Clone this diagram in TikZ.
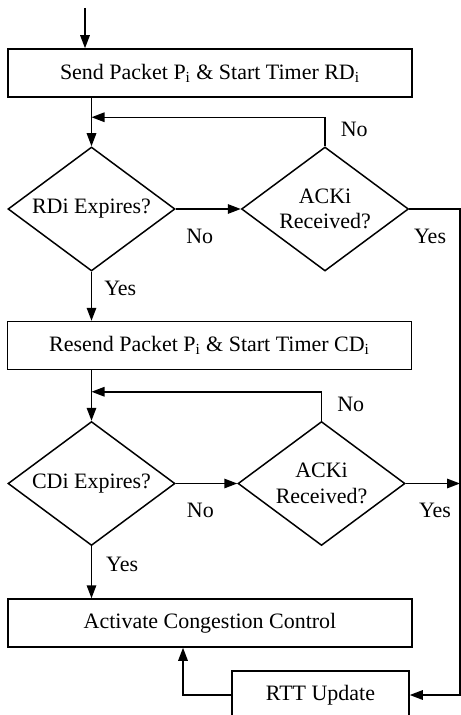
\documentclass[tikz,border=0pt]{standalone}
\usepackage{fontspec}
\setmainfont{Liberation Serif}
\usetikzlibrary{arrows.meta,positioning,shapes.geometric,calc}

\begin{document}
\begin{tikzpicture}[font=\fontsize{12.5}{14.4}\selectfont, >={Triangle[length=2.6mm,width=1.9mm]}, line width=0.85pt,
  procbox/.style={draw, rectangle, minimum width=8.08cm, minimum height=0.96cm, inner sep=0pt},
  decide/.style={draw, diamond, aspect=1.34, minimum width=3.34cm, minimum height=2.48cm, inner sep=0pt, align=center},
  lbl/.style={inner sep=0pt}]
  \useasboundingbox (0,0) rectangle (9.22,-14.3);

  % boxes and decisions
  \node[procbox] (send) at (4.2,-1.46) {Send Packet P\textsubscript{i} \& Start Timer RD\textsubscript{i}};
  \node[decide] (expire1) at (1.83,-4.18) {RDi Expires?};
  \node[decide] (ack1) at (6.5,-4.18) {ACKi\\ Received?};
  \node[procbox] (resend) at (4.19,-6.91) {Resend Packet P\textsubscript{i} \& Start Timer CD\textsubscript{i}};
  \node[decide] (expire2) at (1.83,-9.67) {CDi Expires?};
  \node[decide] (ack2) at (6.43,-9.67) {ACKi\\ Received?};
  \node[procbox] (congest) at (4.2,-12.46) {Activate Congestion Control};
  \node[procbox, minimum width=3.54cm] (rtt) at (6.41,-13.9) {RTT Update};
  \coordinate (start) at (1.7,-0.16);
  \coordinate (rail) at (9.2,0);
  \coordinate (turn) at (3.66,-13.9);

  % first stage
  \draw[->] (start) -- (start |- send.north);
  \draw[->] (send.south -| expire1.north) -- (expire1.north);
  \draw[->] (ack1.north) |- node[lbl, pos=0.29, right=0.3cm]{No} ([yshift=0.58cm]expire1.north);
  \draw[->] (expire1.east) -- node[lbl, pos=0.37, below=0.38cm]{No} (ack1.west);
  \draw[->] (ack1.east) -- node[lbl, pos=0.41, below=0.38cm]{Yes} (ack1.east -| rail) |- (rtt.east);
  \draw[->] (expire1.south) -- node[lbl, pos=0.33, right=0.24cm]{Yes} (resend.north -| expire1.south);

  % second stage
  \draw[->] (resend.south -| expire2.north) -- (expire2.north);
  \draw[->] (ack2.north) |- node[lbl, pos=0.29, right=0.3cm]{No} ([yshift=0.58cm]expire2.north);
  \draw[->] (expire2.east) -- node[lbl, pos=0.4, below=0.38cm]{No} (ack2.west);
  \draw[->] (ack2.east) -- node[lbl, pos=0.54, below=0.38cm]{Yes} (ack2.east -| rail);
  \draw[->] (expire2.south) -- node[lbl, pos=0.35, right=0.28cm]{Yes} (congest.north -| expire2.south);

  \draw[->] (rtt.west) -- (turn) -- (turn |- congest.south);
\end{tikzpicture}
\end{document}
